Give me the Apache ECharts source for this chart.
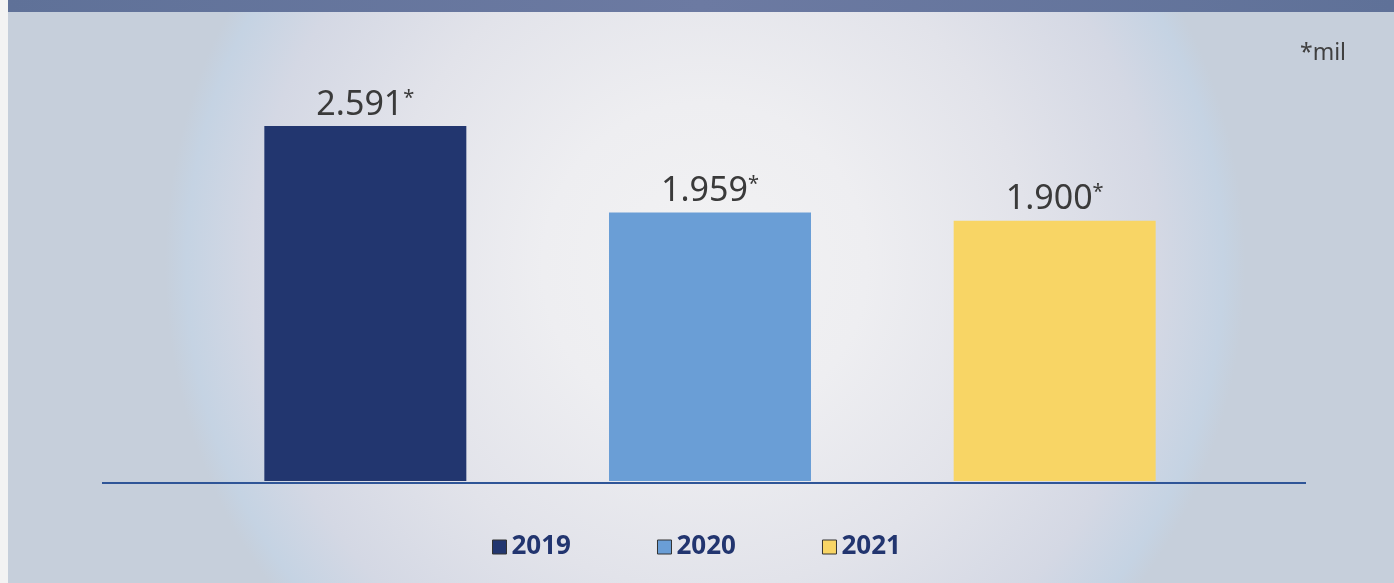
<!DOCTYPE html>
<html>
<head>
<meta charset="utf-8">
<script src="https://cdn.jsdelivr.net/npm/echarts@6/dist/echarts.min.js"></script>
<style>
  html, body { margin: 0; padding: 0; }
  #main {
    width: 1394px;
    height: 583px;
    background: radial-gradient(circle 540px at 705px 265px,
      #f2f2f3 0%, #eeeef1 30%, #e2e3ea 60%, #d4d8e4 84%, #c5d3e3 96%, #c6cfdb 100%);
  }
</style>
</head>
<body>
<div id="main"></div>
<script>
// data
const years = ['2019', '2020', '2021']
const values = [2.591, 1.959, 1.900]
const unitNote = '*mil'

const barColors = ['#22366f', '#6a9ed6', '#f8d565']
const chart = echarts.init(document.getElementById('main'), null, { renderer: 'canvas' })

// one stacked series per year so the legend gets one entry per bar
const series = years.map((year, i) => ({
  name: year,
  type: 'bar',
  stack: 'total',
  barWidth: 202,
  itemStyle: { color: barColors[i] },
  label: {
    show: true,
    position: 'top',
    distance: 4,
    formatter: (p) => p.value.toFixed(3) + '{s|*}',
    fontFamily: 'Noto Sans',
    fontSize: 34,
    color: '#3a3a3a',
    rich: {
      s: { fontSize: 20, color: '#3a3a3a', fontFamily: 'Noto Sans', verticalAlign: 'top', padding: [0, 0, 14, 0] }
    }
  },
  data: years.map((_, j) => (j === i ? values[i] : '-'))
}))

chart.setOption({
  animation: false,
  title: {
    text: unitNote,
    right: 43,
    top: 37,
    textStyle: { fontFamily: 'Noto Sans', fontWeight: 'normal', fontSize: 23, color: '#404040' }
  },
  legend: {
    data: years,
    left: 487,
    top: 529,
    icon: 'rect',
    itemWidth: 14,
    itemHeight: 14,
    itemGap: 86,
    itemStyle: { borderColor: '#333', borderWidth: 1 },
    textStyle: { fontFamily: 'Noto Sans', fontWeight: 'bold', fontSize: 26, color: '#22356f' }
  },
  grid: { left: 193, right: 167, top: 70, bottom: 102 },
  xAxis: {
    type: 'category',
    data: years,
    axisLine: { show: false },
    axisTick: { show: false },
    axisLabel: { show: false }
  },
  yAxis: {
    type: 'value',
    min: 0,
    max: 3,
    show: false,
    splitLine: { show: false }
  },
  graphic: [
    { type: 'rect', left: 0, top: 0, shape: { width: 8, height: 583 }, style: { fill: '#f3f3f3' }, silent: true },
    {
      type: 'rect', left: 8, top: 0, shape: { width: 1386, height: 12 }, silent: true,
      style: {
        fill: new echarts.graphic.LinearGradient(0, 0, 1, 0, [
          { offset: 0, color: '#5f7198' },
          { offset: 0.5, color: '#6c7aa2' },
          { offset: 1, color: '#5f7198' }
        ])
      }
    },
    { type: 'line', shape: { x1: 102, y1: 483, x2: 1306, y2: 483 }, style: { stroke: '#2f5597', lineWidth: 2 }, silent: true }
  ],
  series: series
})
</script>
</body>
</html>
